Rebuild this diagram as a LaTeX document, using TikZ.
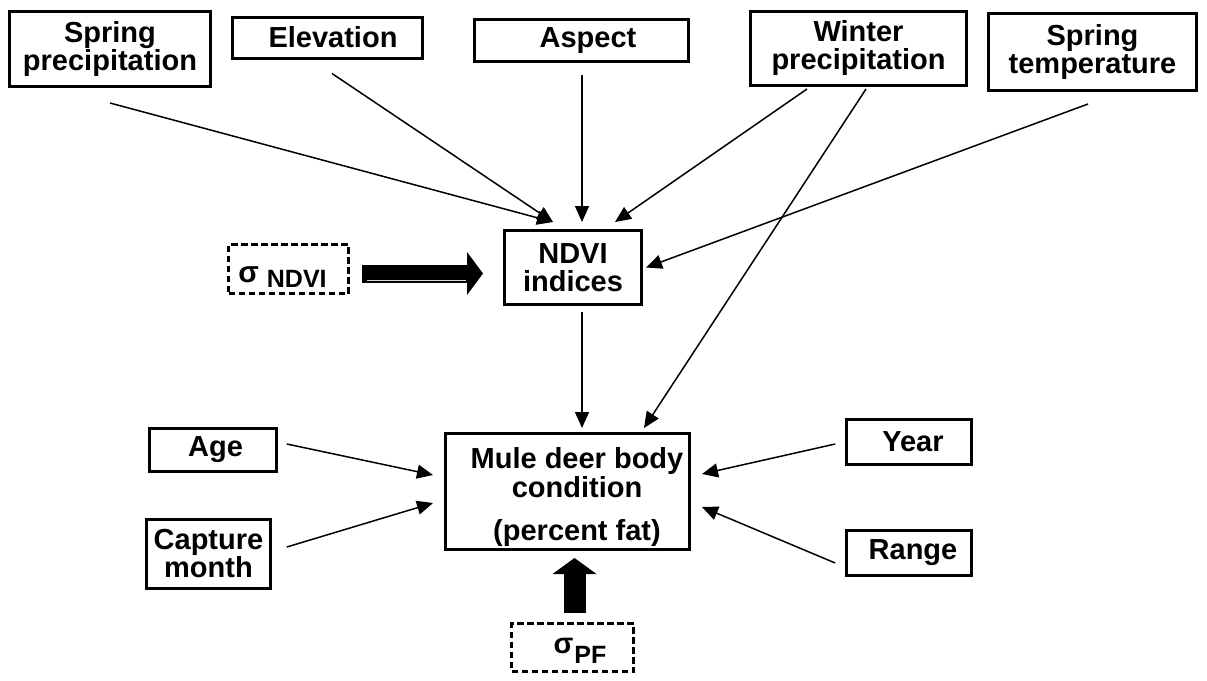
\documentclass[tikz,border=0pt]{standalone}
\usepackage{fontspec}
\setmainfont{Liberation Sans}
\usetikzlibrary{arrows.meta,calc}
\begin{document}
\begin{tikzpicture}[x=1pt,y=-1pt,
  txt/.style={font=\bfseries\fontsize{29}{28}\selectfont, align=center, inner sep=0pt},
  box/.style={txt, draw, line width=3pt},
  sbox/.style={box, line width=2.6pt},
  dbox/.style={box, line width=3.2pt, dash pattern=on 6.5pt off 3.5pt},
  arr/.style={line width=1.5pt, -{Triangle[length=16pt,width=14pt]}},
  fatarr/.style={line cap=butt, -{Triangle[length=16pt,width=#1,line width=0pt]}}
]
\useasboundingbox (0,0) rectangle (1207,680);
% top row
\node[box, minimum width=201pt, minimum height=75pt] (sp) at (110,49) {Spring\\precipitation};
\node[box, minimum width=190pt, minimum height=41pt] (elev) at (327,37.5) {\hspace*{12pt}Elevation};
\node[box, minimum width=214pt, minimum height=42pt] (asp) at (581.5,40.5) {\hspace*{13pt}Aspect};
\node[box, minimum width=216pt, minimum height=74pt] (win) at (858.5,48.5) {Winter\\precipitation};
\node[box, minimum width=208pt, minimum height=77pt] (stemp) at (1092.5,52) {Spring\\temperature};
% middle
\node[box, minimum width=137pt, minimum height=74pt] (ndvi) at (573,267.5) {NDVI\\indices};
\node[dbox, minimum width=120pt, minimum height=49pt, text height=26pt, text depth=0pt] (sn) at (288.5,269)
  {{\fontsize{30}{30}\selectfont σ}\hspace{8pt}\raisebox{-5pt}{\fontsize{25}{25}\selectfont NDVI}\hspace*{12pt}};
% bottom
\node[box, minimum width=244pt, minimum height=116pt] (mule) at (567.5,491.5) {};
\node[txt, font=\bfseries\fontsize{29}{29}\selectfont] (mulet) at (577,497) {Mule deer body\\condition\\[14pt](percent fat)};
\node[sbox, minimum width=127pt, minimum height=43pt] (age) at (213,450) {\hspace*{5pt}Age};
\node[sbox, minimum width=124pt, minimum height=69pt] (cap) at (208.5,554) {Capture\\month};
\node[sbox, minimum width=125pt, minimum height=45pt] (year) at (909,442) {\hspace*{8pt}Year};
\node[sbox, minimum width=125pt, minimum height=45pt] (range) at (909,553) {\hspace*{8pt}Range};
\node[dbox, minimum width=122pt, minimum height=48pt, text height=20pt, text depth=9pt] (spf) at (572.5,647.5)
  {\hspace*{15pt}{\fontsize{29}{29}\selectfont σ}\hspace{1pt}\raisebox{-10pt}{\fontsize{25}{25}\selectfont PF}};
% thin arrows
\draw[arr] ([shift={(0,15)}]sp.south) -- ([shift={(50,-7)}]ndvi.north west);
\draw[arr] ([shift={(5,14)}]elev.south) -- ([shift={(50,-7)}]ndvi.north west);
\draw[arr] ([shift={(0.5,12)}]asp.south) -- ([shift={(9,-7)}]ndvi.north);
\draw[arr] ([shift={(-51.5,2)}]win.south) -- ([shift={(42,-7)}]ndvi.north);
\draw[arr] ([shift={(7.5,2)}]win.south) -- ([shift={(76.5,-4)}]mule.north);
\draw[arr] ([shift={(-4.5,12)}]stemp.south) -- ([shift={(3,0)}]ndvi.east);
\draw[arr] ([shift={(9,6)}]ndvi.south) -- ([shift={(9,-4)}]mule.north -| ndvi.south);
\draw[arr] ([shift={(9,-6)}]age.east) -- ([shift={(-11,-16.5)}]mule.west);
\draw[arr] ([shift={(15,-7)}]cap.east) -- ([shift={(-11,11.5)}]mule.west);
\draw[arr] ([shift={(-10,2)}]year.west) -- ([shift={(11,-17.5)}]mule.east);
\draw[arr] ([shift={(-10,10)}]range.west) -- ([shift={(11,15.5)}]mule.east);
% fat arrows
\draw[fatarr=43pt, line width=18pt] ([shift={(12,4.5)}]sn.east) coordinate (fa) -- ($(ndvi.west |- fa)+(-20,0)$);
\draw[white!85!black, line width=0.7pt] ($(fa)+(5,6.5)$) -- ($(ndvi.west |- fa)+(-37,6.5)$);
\draw[fatarr=44pt, line width=22pt] ([shift={(2,-9)}]spf.north) -- ([shift={(7,7)}]mule.south);
\end{tikzpicture}
\end{document}
